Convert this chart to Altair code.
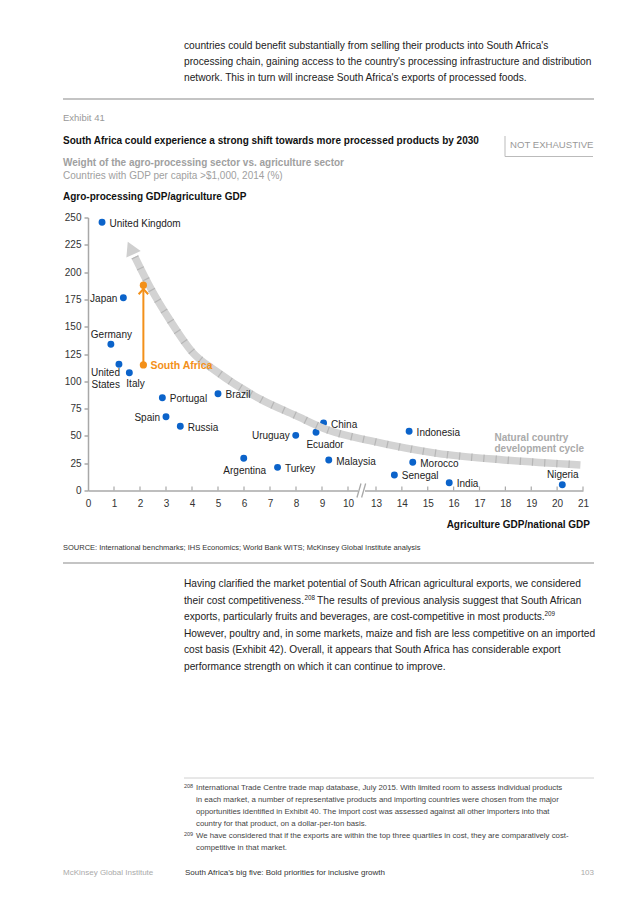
import altair as alt
import pandas as pd

# ---------------- chart data ----------------
countries = ["United Kingdom", "Japan", "Germany", "United States", "Italy", "Portugal",
             "Brazil", "Spain", "Russia", "China", "Uruguay", "Ecuador", "Indonesia",
             "Argentina", "Turkey", "Malaysia", "Morocco", "Senegal", "India", "Nigeria"]
ag_share = [0.54, 1.36, 0.88, 1.19, 1.59, 2.86, 5.0, 3.0, 3.55, 9.06, 7.99, 8.77, 14.28,
            5.99, 7.29, 9.26, 14.42, 13.71, 15.83, 20.2]
agro_ratio = [245.6, 176.5, 133.9, 115.6, 107.9, 85.0, 88.6, 67.6, 58.8, 61.8, 50.5, 53.3,
              54.2, 29.5, 21.2, 27.9, 25.8, 14.2, 7.1, 5.3]

sa_name = "South Africa"
sa_x = [2.13, 2.13]
sa_y = [115.0, 188.0]          # 2014 value and 2030 potential

curve_x = [1.8, 2.38, 3.15, 4.04, 4.88, 6.68, 7.96, 9.23, 12.36, 15.36, 17.93, 20.9]
curve_y = [214, 186.6, 156, 126, 110, 83, 69, 55.4, 45.6, 34, 28, 23.4]
arrow_tip = [1.64, 222]

x_ticks = [0, 1, 2, 3, 4, 5, 6, 7, 8, 9, 10, 13, 14, 15, 16, 17, 18, 19, 20, 21]
y_ticks = [0, 25, 50, 75, 100, 125, 150, 175, 200, 225, 250]

# ---------------- layout ----------------
W, H = 495, 273
OX, OY = 88, 217.5      # page position of the plot origin
FONT = "Liberation Sans"
BLUE = "#0B63CA"
ORANGE = "#F39019"
AXIS = "#a8a8a8"

xscale = alt.Scale(domain=[0, 10, 13, 21], range=[0, 260, 288, W])
yscale = alt.Scale(domain=[0, 250])
AX_X = alt.Axis(values=x_ticks, format="d", ticks=False, labelPadding=8,
                domainColor=AXIS, domainWidth=1.5, labelFontSize=10,
                labelColor="#333", labelFont=FONT, grid=False, labelFlush=False, title=None)
AX_Y = alt.Axis(values=y_ticks, tickSize=4, tickColor=AXIS, tickWidth=1.5,
                labelPadding=3, domainColor=AXIS, domainWidth=1.5,
                labelFontSize=10, labelColor="#333", labelFont=FONT, grid=False, title=None)


def X(field="x"):
    return alt.X(f"{field}:Q", scale=xscale, axis=AX_X, title=None)


def Y(field="y"):
    return alt.Y(f"{field}:Q", scale=yscale, axis=AX_Y, title=None)


pts = pd.DataFrame({"country": countries, "x": ag_share, "y": agro_ratio})
curve = pd.DataFrame({"x": curve_x, "y": curve_y})
sa = pd.DataFrame({"x": sa_x, "y": sa_y})

points = alt.Chart(pts).mark_circle(size=48, color=BLUE, opacity=1).encode(x=X(), y=Y())

xtick_rules = alt.Chart(pd.DataFrame({"x": x_ticks[1:]})).mark_rule(
    color=AXIS, strokeWidth=1.2).encode(x=X(), y=alt.value(H), y2=alt.value(H - 4))

# axis break
brk_cover = alt.Chart(pd.DataFrame({"x": [11.08], "b": [11.82]})).mark_rect(color="white").encode(
    x=X(), x2="b:Q", y=alt.value(H - 2), y2=alt.value(H + 2))
brk_lines = alt.Chart(pd.DataFrame({"x": [10.96, 11.46], "b": [11.39, 11.89]})).mark_rule(
    color=AXIS, strokeWidth=1.3).encode(x=X(), x2="b:Q", y=alt.value(H + 7), y2=alt.value(H - 7))

band = alt.Chart(curve).mark_line(color="#d3d3d3", strokeWidth=7.5, interpolate="monotone",
                                  strokeCap="butt").encode(x=X(), y=Y())
band_ticks = alt.Chart(curve).mark_line(color="#b6b6b6", strokeWidth=7.5, interpolate="monotone",
                                        strokeCap="butt", strokeDash=[1.2, 11]).encode(x=X(), y=Y())
arrow = alt.Chart(pd.DataFrame({"x": [arrow_tip[0]], "y": [arrow_tip[1]]})).mark_point(
    shape="triangle-up", size=250, filled=True, color="#cfcfcf", opacity=1, angle=335).encode(
    x=X(), y=Y())

nat_label = alt.Chart(pd.DataFrame({"x": [17.58, 17.58], "y": [48.4, 37.8],
                                    "t": ["Natural country", "development cycle"]})).mark_text(
    align="left", baseline="middle", font=FONT, fontSize=10, fontWeight="bold",
    color="#aaaaaa").encode(x=X(), y=Y(), text="t:N")

sa_line = alt.Chart(sa).mark_line(color=ORANGE, strokeWidth=2).encode(x=X(), y=Y())
sa_head = alt.Chart(pd.DataFrame({"x": [sa_x[1]], "y": [184.5]})).mark_point(
    shape="M-1,1.1L0,0L1,1.1", size=90, filled=False, stroke=ORANGE, strokeWidth=2,
    opacity=1).encode(x=X(), y=Y())
sa_dots = alt.Chart(sa).mark_circle(size=52, color=ORANGE, opacity=1).encode(x=X(), y=Y())
sa_label = alt.Chart(pd.DataFrame({"x": [sa_x[0]], "y": [sa_y[0]], "t": [sa_name]})).mark_text(
    align="left", baseline="middle", dx=7, dy=1, font=FONT, fontSize=10.5, fontWeight="bold",
    color=ORANGE).encode(x=X(), y=Y(), text="t:N")

# label placement (layout only)
placement = {
    "right": (["United Kingdom", "Portugal", "Brazil", "Russia", "China", "Turkey", "Malaysia",
               "Indonesia", "Morocco", "Senegal", "India"], "left", "middle", 7.5, 1.5),
    "left": (["Japan", "Spain", "Uruguay"], "right", "middle", -6, 1),
    "above": (["Germany", "Nigeria"], "center", "middle", 0.5, -9.5),
    "below": (["Argentina"], "center", "middle", 1, 12.5),
    "ecuador": (["Ecuador"], "center", "middle", 9, 12.5),
    "italy": (["Italy"], "left", "middle", -3, 11),
}
label_layers = []
for key, (names, al, bl, dx, dy) in placement.items():
    label_layers.append(
        alt.Chart(pts).transform_filter(alt.FieldOneOfPredicate(field="country", oneOf=names))
        .mark_text(align=al, baseline=bl, dx=dx, dy=dy, font=FONT, fontSize=10, color="#222")
        .encode(x=X(), y=Y(), text="country:N"))
label_layers.append(
    alt.Chart(pts).transform_filter(alt.FieldEqualPredicate(field="country", equal="United States"))
    .transform_calculate(t="['United', 'States']")
    .mark_text(align="right", baseline="top", dx=1, dy=4, font=FONT, fontSize=10,
               lineHeight=11.5, color="#222")
    .encode(x=X(), y=Y(), text="t:N"))

# ---------------- page texts (layout) ----------------
BODY = 10.2
page = [
    # text, x, y, size, color, weight, align
    ("countries could benefit substantially from selling their products into South Africa's", 184, 46, BODY, "#222", "normal", "left"),
    ("processing chain, gaining access to the country's processing infrastructure and distribution", 184, 62, BODY, "#222", "normal", "left"),
    ("network. This in turn will increase South Africa's exports of processed foods.", 184, 78, BODY, "#222", "normal", "left"),
    ("Exhibit 41", 63, 118, 9.5, "#999", "normal", "left"),
    ("South Africa could experience a strong shift towards more processed products by 2030", 63, 141, 10, "#111", "bold", "left"),
    ("NOT EXHAUSTIVE", 510, 145, 9.6, "#999", "normal", "left"),
    ("Weight of the agro-processing sector vs. agriculture sector", 63, 163, 10, "#a0a0a0", "bold", "left"),
    ("Countries with GDP per capita >$1,000, 2014 (%)", 63, 176, 10, "#a0a0a0", "normal", "left"),
    ("Agro-processing GDP/agriculture GDP", 63, 197, 10, "#111", "bold", "left"),
    ("Agriculture GDP/national GDP", 590, 525, 10, "#111", "bold", "right"),
    ("SOURCE:  International benchmarks; IHS Economics; World Bank WITS; McKinsey Global Institute analysis", 63, 548, 7.5, "#333", "normal", "left"),
    ("Having clarified the market potential of South African agricultural exports, we considered", 184, 584, BODY, "#222", "normal", "left"),
    ("their cost competitiveness.", 184, 600.6, BODY, "#222", "normal", "left"),
    ("208", 304.5, 597.5, 6.3, "#222", "normal", "left"),
    ("The results of previous analysis suggest that South African", 317, 600.6, BODY, "#222", "normal", "left"),
    ("exports, particularly fruits and beverages, are cost-competitive in most products.", 184, 617.2, BODY, "#222", "normal", "left"),
    ("209", 544.5, 614, 6.3, "#222", "normal", "left"),
    ("However, poultry and, in some markets, maize and fish are less competitive on an imported", 184, 633.8, BODY, "#222", "normal", "left"),
    ("cost basis (Exhibit 42). Overall, it appears that South Africa has considerable export", 184, 650.4, BODY, "#222", "normal", "left"),
    ("performance strength on which it can continue to improve.", 184, 667, BODY, "#222", "normal", "left"),
    ("208", 184, 786, 5.5, "#444", "normal", "left"),
    ("International Trade Centre trade map database, July 2015. With limited room to assess individual products", 196, 788, 7.8, "#444", "normal", "left"),
    ("in each market, a number of representative products and importing countries were chosen from the major", 196, 800, 7.8, "#444", "normal", "left"),
    ("opportunities identified in Exhibit 40. The import cost was assessed against all other importers into that", 196, 812, 7.8, "#444", "normal", "left"),
    ("country for that product, on a dollar-per-ton basis.", 196, 824, 7.8, "#444", "normal", "left"),
    ("209", 184, 834, 5.5, "#444", "normal", "left"),
    ("We have considered that if the exports are within the top three quartiles in cost, they are comparatively cost-", 196, 836, 7.8, "#444", "normal", "left"),
    ("competitive in that market.", 196, 848, 7.8, "#444", "normal", "left"),
    ("McKinsey Global Institute", 63, 873, 8, "#aaa", "normal", "left"),
    ("South Africa\u2019s big five: Bold priorities for inclusive growth", 185, 873, 8, "#333", "normal", "left"),
    ("103", 594, 873, 8, "#aaa", "normal", "right"),
]
page_layers = []
for (t, px, py, fs, col, wt, al) in page:
    page_layers.append(
        alt.Chart(pd.DataFrame({"t": [t]})).mark_text(
            align=al, baseline="middle", font=FONT, fontSize=fs, color=col, fontWeight=wt)
        .encode(text="t:N", x=alt.value(px - OX), y=alt.value(py - OY)))

rules = [
    # x1, x2, y1, y2, color, width
    (63, 594, 99, 99, "#c4c4c4", 2),
    (63, 594, 563, 563, "#c4c4c4", 2),
    (505, 505, 136, 156.5, "#bbbbbb", 1),
    (505, 593, 156.5, 156.5, "#bbbbbb", 1),
    (184, 594, 778, 778, "#d0d0d0", 1),
]
rule_layers = []
for (x1, x2, y1, y2, col, sw) in rules:
    rule_layers.append(
        alt.Chart(pd.DataFrame({"d": [0]})).mark_rule(color=col, strokeWidth=sw).encode(
            x=alt.value(x1 - OX), x2=alt.value(x2 - OX), y=alt.value(y1 - OY), y2=alt.value(y2 - OY)))

chart = alt.layer(
    points, xtick_rules, brk_cover, brk_lines, band, band_ticks, arrow, nat_label,
    *label_layers, sa_line, sa_head, sa_dots, sa_label, *page_layers, *rule_layers
).properties(
    width=W, height=H,
    autosize=alt.AutoSizeParams(type="none"),
    padding={"left": 80, "top": 209.5, "right": 45, "bottom": 401.5},
    background="white",
).configure_view(stroke=None)

chart.save("out.html", embed_options={"renderer": "svg", "actions": False})
